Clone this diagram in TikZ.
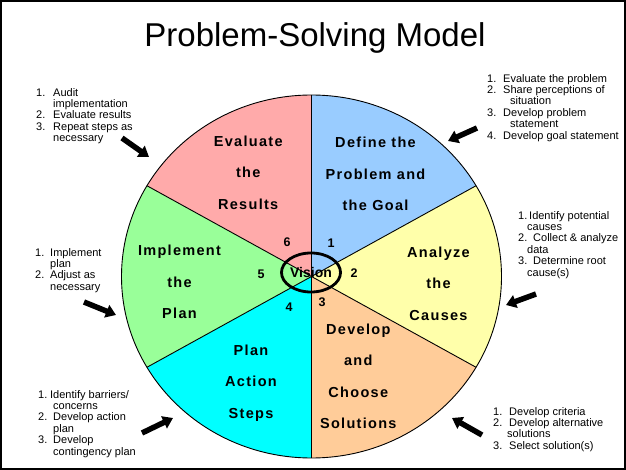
\documentclass[tikz,border=0pt]{standalone}
\usepackage{fontspec}
\setmainfont{Liberation Sans}
\newfontfamily\labfont[LetterSpace=9]{Liberation Sans}
\usetikzlibrary{arrows.meta,shapes.geometric}
\definecolor{cpink}{RGB}{255,170,170}
\definecolor{cblue}{RGB}{153,204,255}
\definecolor{cyel}{RGB}{255,255,170}
\definecolor{cpeach}{RGB}{255,204,153}
\definecolor{ccyan}{RGB}{0,255,255}
\definecolor{cgreen}{RGB}{153,255,153}
\newcommand{\nitem}[3]{\makebox[#1pt][l]{#2}#3}
\newcommand{\contline}[2]{\hspace*{#1pt}#2}
\begin{document}
\begin{tikzpicture}[x=1pt,y=-1pt,
  sector/.style={font=\labfont\bfseries\fontsize{14.5}{31.5}\selectfont, align=center, inner sep=0pt},
  note/.style={font=\fontsize{11}{11.4}\selectfont, align=left, inner sep=0pt, anchor=north west},
  num/.style={font=\bfseries\fontsize{12.5}{14}\selectfont, inner sep=0pt},
  pointer/.style={line width=5.5pt, -{Triangle[length=10pt,width=13pt]}},
  rim/.style={line width=0.9pt}]
\useasboundingbox (0,0) rectangle (626,470);
\fill[white] (0,0) rectangle (626,470);

% geometry
\coordinate (C) at (311.5,276.5);
\coordinate (T) at (311.5,95);
\coordinate (UR) at (476,185.75);
\coordinate (LR) at (476,367.25);
\coordinate (B) at (311.5,458);
\coordinate (LL) at (147,367.25);
\coordinate (UL) at (147,185.75);
\coordinate (T2) at (311.5,-86.5);
\coordinate (UR2) at (640.5,95);
\coordinate (LR2) at (640.5,458);
\coordinate (B2) at (311.5,639.5);
\coordinate (LL2) at (-17.5,458);
\coordinate (UL2) at (-17.5,95);

\begin{scope}
\clip (C) ellipse [x radius=190pt, y radius=181.5pt];
\fill[cblue] (C) -- (T2) -- (UR2) -- cycle;
\fill[cyel] (C) -- (UR2) -- (LR2) -- cycle;
\fill[cpeach] (C) -- (LR2) -- (B2) -- cycle;
\fill[ccyan] (C) -- (B2) -- (LL2) -- cycle;
\fill[cgreen] (C) -- (LL2) -- (UL2) -- cycle;
\fill[cpink] (C) -- (UL2) -- (T2) -- cycle;
\end{scope}
\draw[rim] (C) ellipse [x radius=190pt, y radius=181.5pt];
\draw[rim] (T) -- (B);
\draw[rim] (UL) -- (LR);
\draw[rim] (UR) -- (LL);

% vision ring
\node[draw, ellipse, line width=2.8pt, minimum width=58pt, minimum height=39pt, inner sep=0pt,
  font=\bfseries\fontsize{14}{16}\selectfont] (vision) at (311,272.5) {Vision};

% numbers
\node[num] (n1) at (331,243) {1};
\node[num] (n2) at (354,273) {2};
\node[num] (n3) at (322,302) {3};
\node[num] (n4) at (289,307) {4};
\node[num] (n5) at (261,274) {5};
\node[num] (n6) at (287,242) {6};

% sector labels
\node[sector] (s1) at (375.5,174) {Define the\\Problem and\\the Goal};
\node[sector] (s2) at (438.5,283.5) {Analyze\\the\\Causes};
\node[sector] (s3) at (358.3,376.5) {Develop\\and\\Choose\\Solutions};
\node[sector] (s4) at (251,383) {Plan\\Action\\Steps};
\node[sector] (s5) at (179.5,282) {Implement\\the\\Plan};
\node[sector] (s6) at (248.2,172.7) {Evaluate\\the\\Results};

% title
\node[anchor=base, inner sep=0pt, font=\fontsize{33}{36}\selectfont] (title) at (315,47) {Problem-Solving Model};

% notes
\node[note] (tl) at (36,88) {\nitem{17}{1.}{Audit}\\ \contline{17}{implementation}\\ \nitem{17}{2.}{Evaluate results}\\ \nitem{17}{3.}{Repeat steps as}\\ \contline{17}{necessary}};
\node[note] (tr) at (487,74) {\nitem{16}{1.}{Evaluate the problem}\\ \nitem{16}{2.}{Share perceptions of}\\ \contline{23}{situation}\\ \nitem{16}{3.}{Develop problem}\\ \contline{23}{statement}\\ \nitem{16}{4.}{Develop goal statement}};
\node[note] (rm) at (518,211) {\nitem{11}{1.}{Identify potential}\\ \contline{9}{causes}\\ \nitem{15}{2.}{Collect \& analyze}\\ \contline{9}{data}\\ \nitem{15}{3.}{Determine root}\\ \contline{9}{cause(s)}};
\node[note] (lm) at (35,248) {\nitem{15}{1.}{Implement}\\ \contline{15}{plan}\\ \nitem{15}{2.}{Adjust as}\\ \contline{15}{necessary}};
\node[note] (bl) at (38,390) {\nitem{12}{1.}{Identify barriers/}\\ \contline{15}{concerns}\\ \nitem{15}{2.}{Develop action}\\ \contline{15}{plan}\\ \nitem{15}{3.}{Develop}\\ \contline{15}{contingency plan}};
\node[note] (br) at (493,407) {\nitem{16}{1.}{Develop criteria}\\ \nitem{16}{2.}{Develop alternative}\\ \contline{14}{solutions}\\ \nitem{16}{3.}{Select solution(s)}};

% pointers
\coordinate (a1s) at (122,138); \coordinate (a1e) at (149,157);
\coordinate (a2s) at (477,128); \coordinate (a2e) at (448,141);
\coordinate (a3s) at (536,294); \coordinate (a3e) at (506,305);
\coordinate (a4s) at (84,302);  \coordinate (a4e) at (116,315);
\coordinate (a5s) at (142,433); \coordinate (a5e) at (173,418);
\coordinate (a6s) at (482,435); \coordinate (a6e) at (452,418);
\draw[pointer] (a1s) -- (a1e);
\draw[pointer] (a2s) -- (a2e);
\draw[pointer] (a3s) -- (a3e);
\draw[pointer] (a4s) -- (a4e);
\draw[pointer] (a5s) -- (a5e);
\draw[pointer] (a6s) -- (a6e);

% frame
\draw[line width=2pt] (1,1) rectangle (625,469);
\end{tikzpicture}
\end{document}
